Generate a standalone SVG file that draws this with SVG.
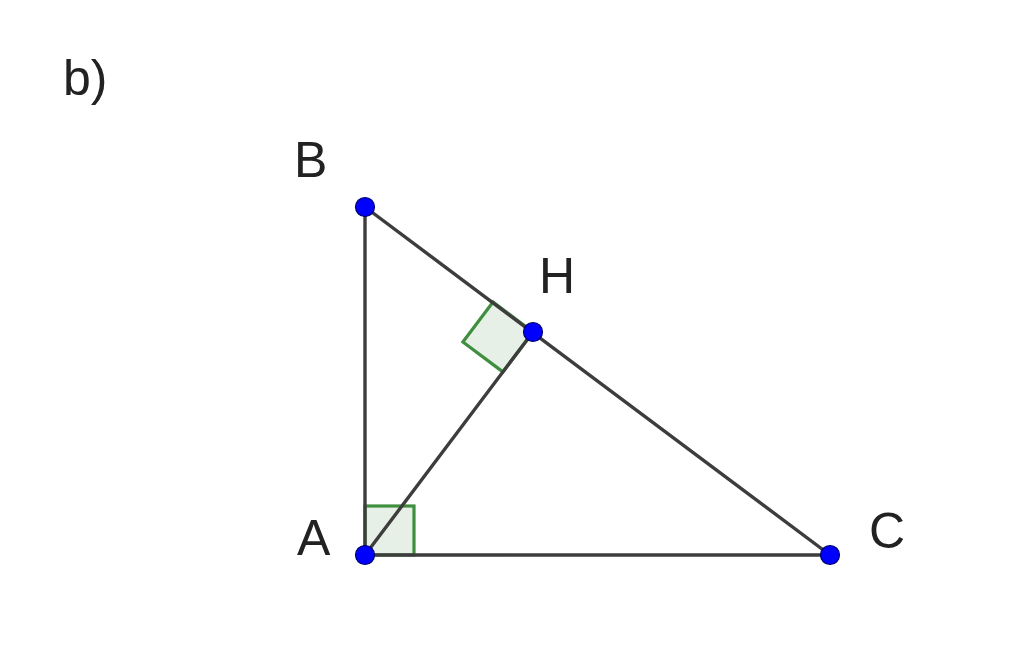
<svg xmlns="http://www.w3.org/2000/svg" width="1024" height="649" viewBox="0 0 1024 649">
<style>
.lbl{font-family:"Liberation Sans",Arial,sans-serif;font-size:50px;fill:#222222}
.seg{stroke:#3d3d3d;stroke-width:3.4;fill:none;stroke-linecap:round}
.ang{fill:#3c8c3c;fill-opacity:0.13;stroke:#3f8f3f;stroke-width:3.2;stroke-linejoin:miter}
.pt{fill:#0000ff;stroke:#00006e;stroke-width:1.2}
</style>
<rect width="1024" height="649" fill="#ffffff"/>
<text class="lbl" x="63" y="95">b)</text>
<g id="angles">
<polygon class="ang" points="533,332 493,302 462.9,342 502.9,371.9"/>
<rect class="ang" x="365" y="506" width="49" height="49"/>
</g>
<g id="connectors">
<line class="seg" x1="365" y1="207" x2="365" y2="555"/>
<line class="seg" x1="365" y1="555" x2="830" y2="555"/>
<line class="seg" x1="365" y1="207" x2="830" y2="555"/>
<line class="seg" x1="365" y1="555" x2="533" y2="332"/>
</g>
<g id="B"><circle class="pt" cx="365" cy="207" r="9.5"/><text class="lbl" x="294" y="177">B</text></g>
<g id="H"><circle class="pt" cx="533" cy="332" r="9.5"/><text class="lbl" x="539" y="293">H</text></g>
<g id="A"><circle class="pt" cx="365" cy="555" r="9.5"/><text class="lbl" x="297" y="555">A</text></g>
<g id="C"><circle class="pt" cx="830" cy="555" r="9.5"/><text class="lbl" x="869" y="548">C</text></g>
</svg>
